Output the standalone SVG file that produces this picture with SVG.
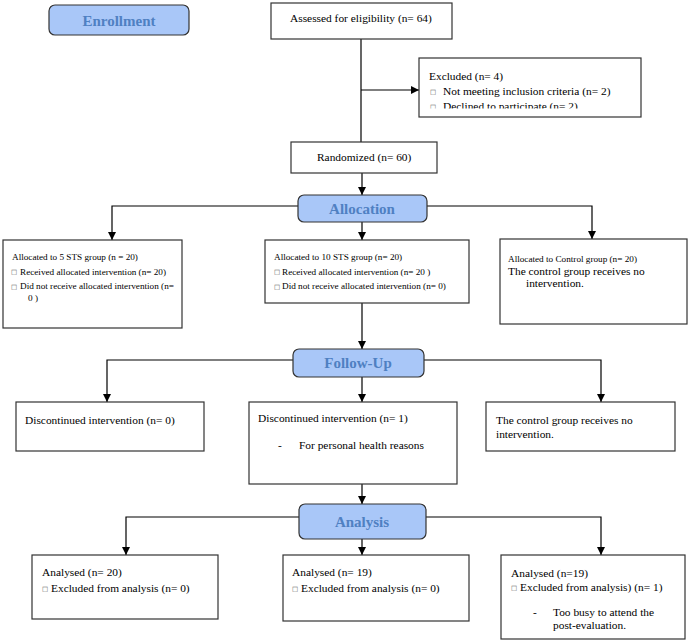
<svg xmlns="http://www.w3.org/2000/svg" width="688" height="642" viewBox="0 0 688 642">
<defs>
<marker id="ah" markerUnits="userSpaceOnUse" markerWidth="8" markerHeight="8" refX="8" refY="4" orient="auto">
<path d="M0,0 L8,4 L0,8 z" fill="#000"/>
</marker>
<clipPath id="exclip"><rect x="419" y="58" width="222" height="50.5"/></clipPath>
</defs>
<style>
.box{fill:#fff;stroke:#333;stroke-width:1.2}
.hdr{fill:#a9c7f8;stroke:#333;stroke-width:1.2}
.ht{font-family:"Liberation Serif","Times New Roman",serif;font-weight:bold;font-size:15px;fill:#4f80c2;text-anchor:middle}
.t{font-family:"Liberation Serif","Times New Roman",serif;font-size:11.4px;fill:#000}
.s{font-family:"Liberation Serif","Times New Roman",serif;font-size:9.2px;fill:#000}
.sq{font-family:"DejaVu Sans",sans-serif;font-size:6.5px;fill:#555}
.c{fill:none;stroke:#000;stroke-width:1.2}
</style>
<g id="connectors">
<path class="c" d="M361,39 V142"/>
<path class="c" d="M361,90 H419" marker-end="url(#ah)"/>
<path class="c" d="M362,173 V195" marker-end="url(#ah)"/>
<path class="c" d="M298,206 H112 V240" marker-end="url(#ah)"/>
<path class="c" d="M362,222 V240" marker-end="url(#ah)"/>
<path class="c" d="M427,206 H592 V239" marker-end="url(#ah)"/>
<path class="c" d="M362,303 V349" marker-end="url(#ah)"/>
<path class="c" d="M293,360 H107 V402" marker-end="url(#ah)"/>
<path class="c" d="M362,377 V402" marker-end="url(#ah)"/>
<path class="c" d="M424,360 H601 V402" marker-end="url(#ah)"/>
<path class="c" d="M362,484 V504" marker-end="url(#ah)"/>
<path class="c" d="M299,517 H126 V555" marker-end="url(#ah)"/>
<path class="c" d="M362,539 V555" marker-end="url(#ah)"/>
<path class="c" d="M426,517 H601 V555" marker-end="url(#ah)"/>
</g>
<g id="enrollment">
<rect class="hdr" x="49" y="5" width="140" height="30" rx="6"/>
<text class="ht" x="119" y="25.5">Enrollment</text>
</g>
<g id="assessed">
<rect class="box" x="271" y="3" width="181" height="36"/>
<text class="t" x="290" y="22">Assessed for eligibility (n= 64)</text>
</g>
<g id="excluded">
<rect class="box" x="419" y="58" width="222" height="59"/>
<g clip-path="url(#exclip)">
<text class="t" x="429" y="80">Excluded (n= 4)</text>
<text class="sq" x="430" y="94">□</text>
<text class="t" x="443" y="95">Not meeting inclusion criteria (n= 2)</text>
<text class="sq" x="430" y="109">□</text>
<text class="t" x="443" y="110">Declined to participate (n= 2)</text>
</g>
</g>
<g id="randomized">
<rect class="box" x="291" y="142" width="146" height="31"/>
<text class="t" x="317" y="161">Randomized (n= 60)</text>
</g>
<g id="allocation">
<rect class="hdr" x="298" y="195" width="129" height="27" rx="6"/>
<text class="ht" x="362" y="213.5">Allocation</text>
</g>
<g id="sts5">
<rect class="box" x="3" y="240" width="179" height="88"/>
<text class="s" x="12" y="260">Allocated to 5 STS group (n = 20)</text>
<text class="sq" x="11" y="274">□</text>
<text class="s" x="20" y="274.5">Received allocated intervention (n= 20)</text>
<text class="sq" x="11" y="288.5">□</text>
<text class="s" x="20" y="289">Did not receive allocated intervention (n=</text>
<text class="s" x="28" y="300.5">0 )</text>
</g>
<g id="sts10">
<rect class="box" x="265" y="240" width="204" height="63"/>
<text class="s" x="274" y="260">Allocated to 10 STS group (n= 20)</text>
<text class="sq" x="274" y="274">□</text>
<text class="s" x="282" y="274.5">Received allocated intervention (n= 20 )</text>
<text class="sq" x="274" y="288.5">□</text>
<text class="s" x="282" y="289">Did not receive allocated intervention (n= 0)</text>
</g>
<g id="control">
<rect class="box" x="500" y="239" width="187" height="85"/>
<text class="s" x="508" y="262">Allocated to Control group (n= 20)</text>
<text class="t" x="508" y="275">The control group receives no</text>
<text class="t" x="526" y="287">intervention.</text>
</g>
<g id="followup">
<rect class="hdr" x="293" y="349" width="131" height="28" rx="6"/>
<text class="ht" x="358" y="368">Follow-Up</text>
</g>
<g id="disc0">
<rect class="box" x="16" y="402" width="188" height="49"/>
<text class="t" x="25" y="424">Discontinued intervention (n= 0)</text>
</g>
<g id="disc1">
<rect class="box" x="249" y="402" width="208" height="82"/>
<text class="t" x="258" y="422">Discontinued intervention (n= 1)</text>
<text class="t" x="278" y="449">-</text>
<text class="t" x="299" y="449">For personal health reasons</text>
</g>
<g id="control2">
<rect class="box" x="486" y="402" width="189" height="49"/>
<text class="t" x="496" y="424">The control group receives no</text>
<text class="t" x="496" y="438">intervention.</text>
</g>
<g id="analysis">
<rect class="hdr" x="299" y="504" width="127" height="35" rx="6"/>
<text class="ht" x="362" y="526.5">Analysis</text>
</g>
<g id="an20">
<rect class="box" x="32" y="555" width="186" height="64"/>
<text class="t" x="42" y="576">Analysed (n= 20)</text>
<text class="sq" x="42" y="591">□</text>
<text class="t" x="51" y="592">Excluded from analysis (n= 0)</text>
</g>
<g id="an19">
<rect class="box" x="283" y="555" width="186" height="66"/>
<text class="t" x="292" y="576">Analysed (n= 19)</text>
<text class="sq" x="292" y="591">□</text>
<text class="t" x="301" y="592">Excluded from analysis (n= 0)</text>
</g>
<g id="an19c">
<rect class="box" x="501" y="555" width="184" height="84"/>
<text class="t" x="511" y="577">Analysed (n=19)</text>
<text class="sq" x="511" y="590">□</text>
<text class="t" x="520" y="591">Excluded from analysis) (n= 1)</text>
<text class="t" x="533" y="616">-</text>
<text class="t" x="553" y="616">Too busy to attend the</text>
<text class="t" x="553" y="629">post-evaluation.</text>
</g>
</svg>
